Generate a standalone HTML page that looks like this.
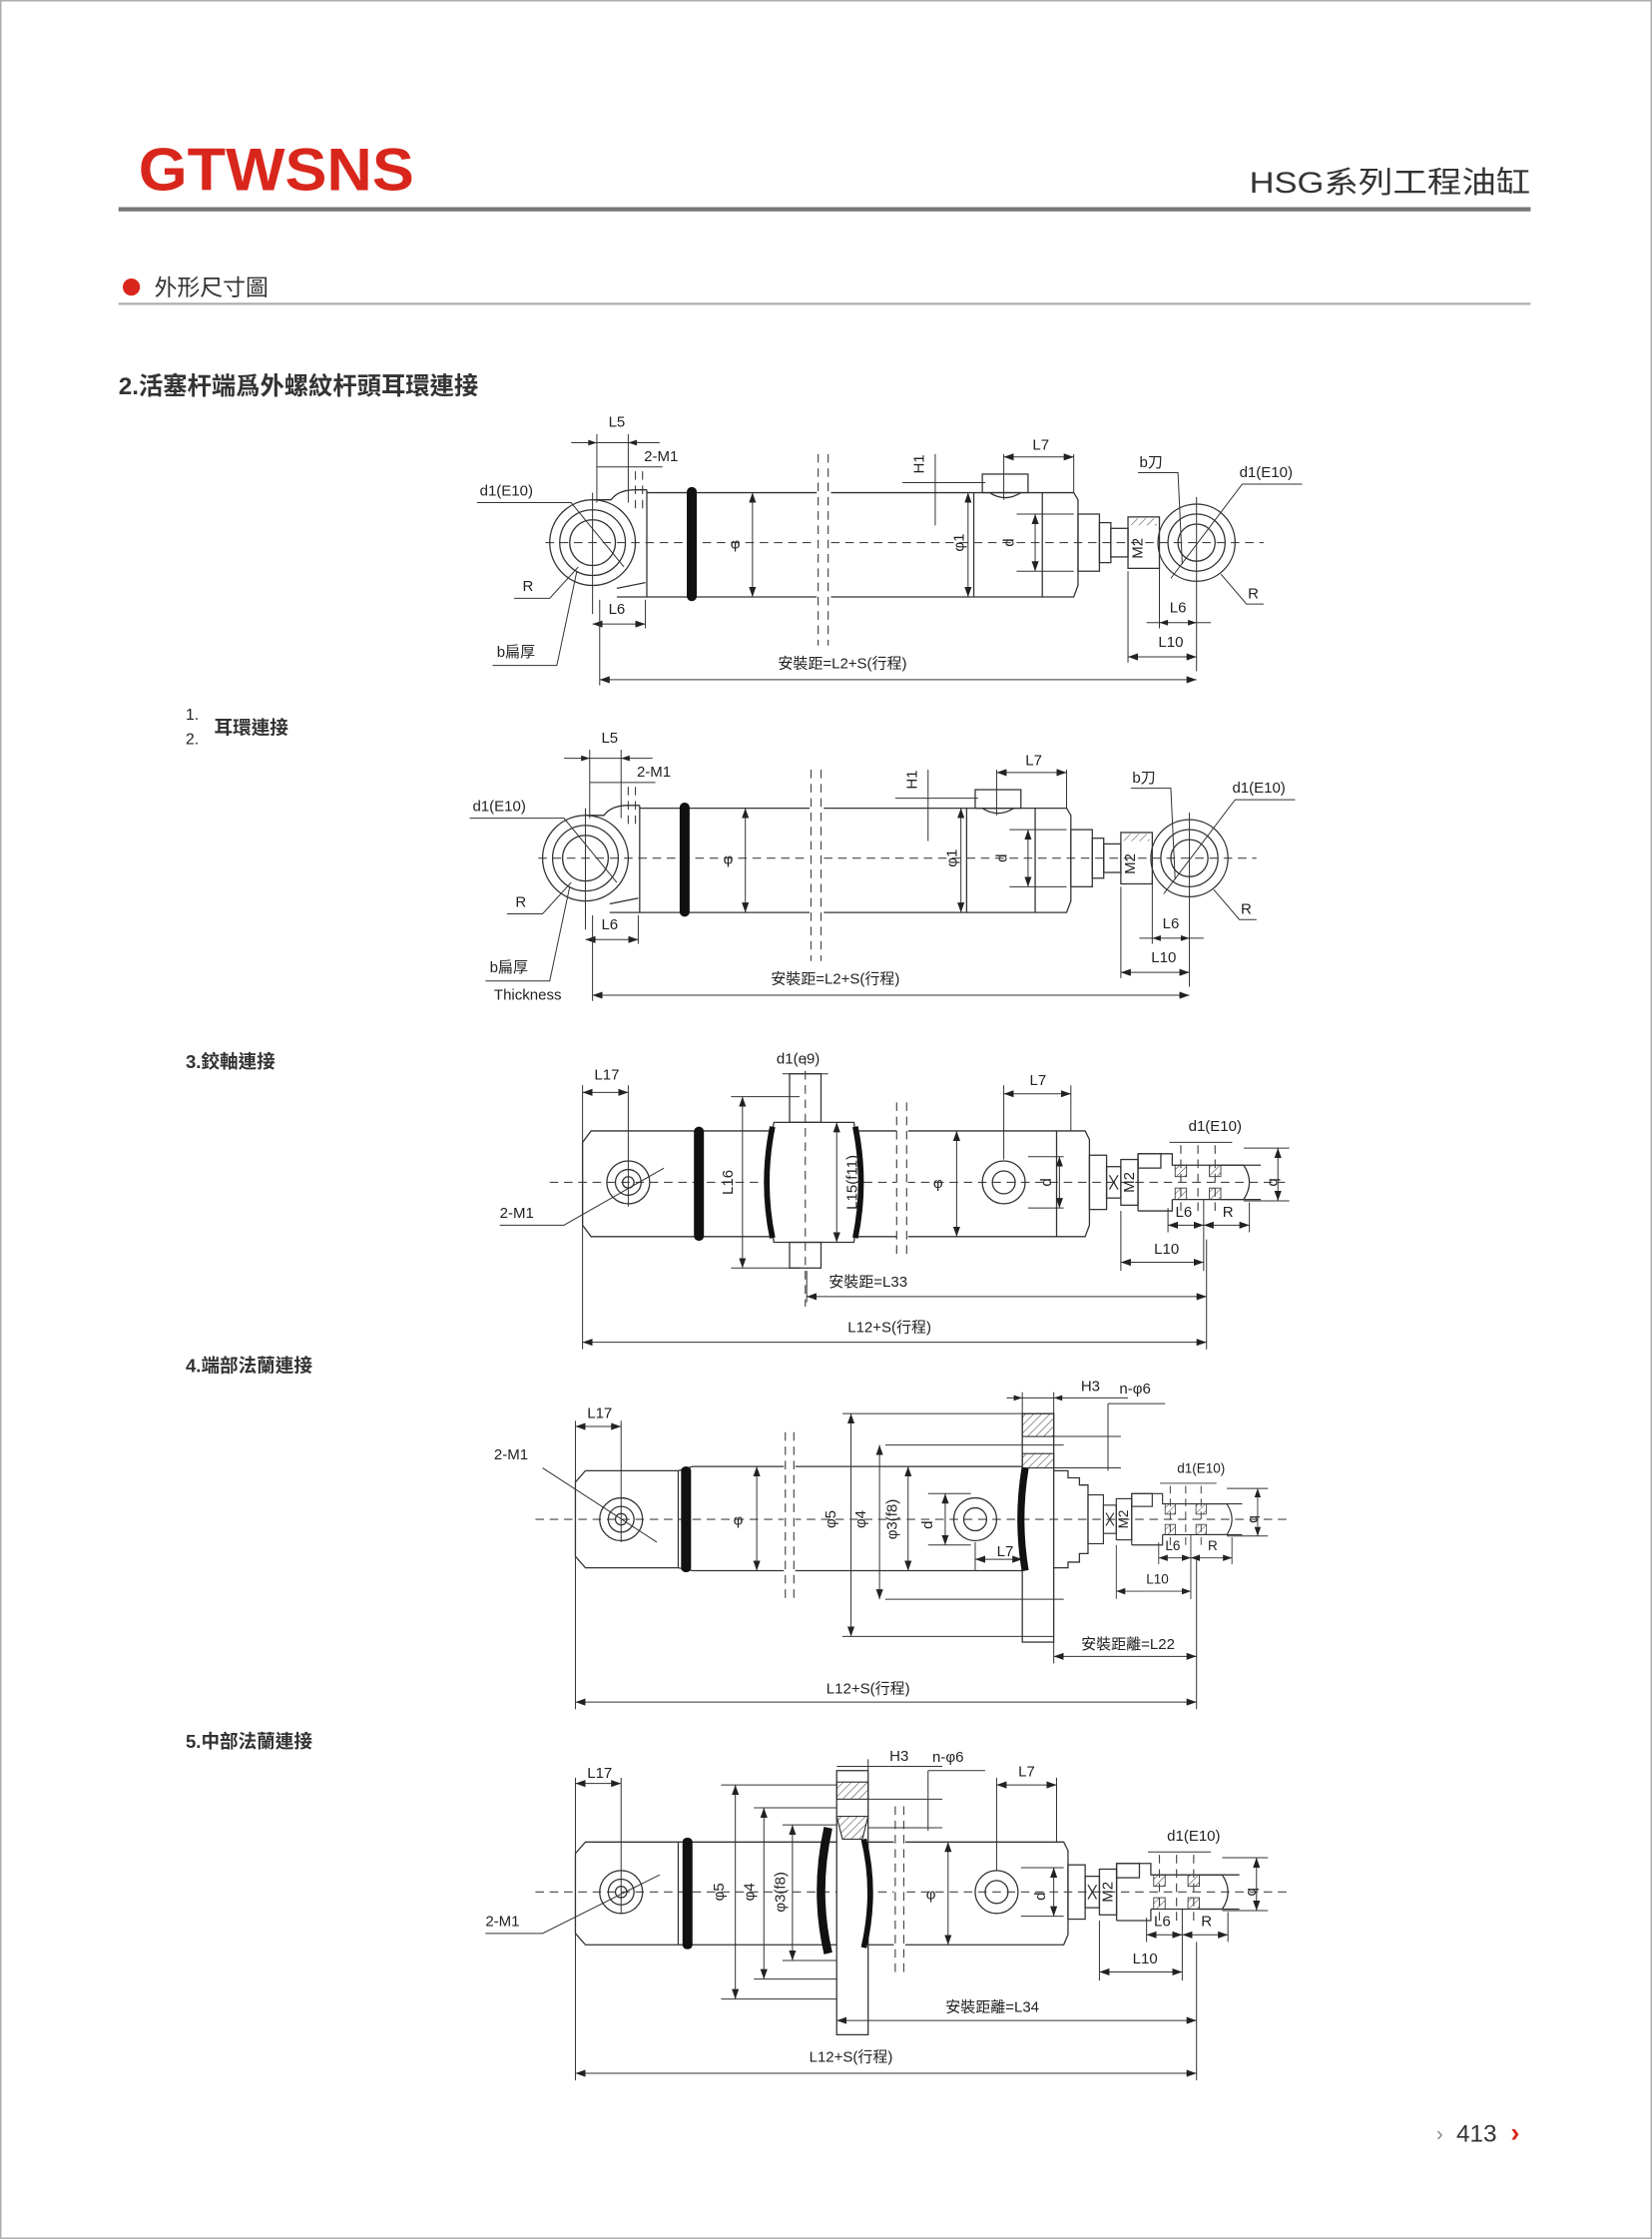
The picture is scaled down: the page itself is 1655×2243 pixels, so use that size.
<!DOCTYPE html>
<html><head><meta charset="utf-8">
<style>
html,body{margin:0;padding:0;background:#fff;}
svg{display:block;}
text{font-family:"Liberation Sans","Noto Sans CJK TC",sans-serif;fill:#222;}
.s{stroke:#333;stroke-width:0.9;fill:none;}
.c{stroke:#444;stroke-width:0.8;stroke-dasharray:6 4;fill:none;}
.d{stroke:#333;stroke-width:0.7;fill:none;}
.l{font-size:10.5px;}
</style></head><body>
<svg width="1655" height="2243" viewBox="0 0 1157 1568" xmlns="http://www.w3.org/2000/svg">
<defs>
<marker id="a" markerWidth="7" markerHeight="5" refX="7" refY="2.5" orient="auto-start-reverse" markerUnits="userSpaceOnUse"><path d="M0,0 L7,2.5 L0,5z" fill="#222"/></marker>
<pattern id="h" width="4" height="4" patternUnits="userSpaceOnUse" patternTransform="rotate(45)"><line x1="0" y1="0" x2="0" y2="4" stroke="#333" stroke-width="0.7"/></pattern>

<g id="rodend">
 <rect class="s" x="0" y="-19" width="12" height="38"/>
 <rect class="s" x="12" y="-11" width="10" height="22"/>
 <path class="s" d="M14,-5 L20,5 M20,-5 L14,5"/>
 <rect class="s" x="22" y="-16" width="12" height="32"/>
 <text class="l" transform="translate(31,0) rotate(-90)" text-anchor="middle">M2</text>
 <rect class="s" x="34" y="-20" width="16" height="10" fill="url(#h)"/>
 <path class="s" d="M34,-20 L58,-20 L58,-12 L120,-12 M58,12 L120,12 M34,20 L58,20 L58,12 M34,-20 L34,20"/>
 <rect x="60" y="-12" width="8" height="8" fill="url(#h)" stroke="#333" stroke-width="0.6"/>
 <rect x="60" y="4" width="8" height="8" fill="url(#h)" stroke="#333" stroke-width="0.6"/>
 <rect x="84" y="-12" width="8" height="8" fill="url(#h)" stroke="#333" stroke-width="0.6"/>
 <rect x="84" y="4" width="8" height="8" fill="url(#h)" stroke="#333" stroke-width="0.6"/>
 <path class="s" d="M92,-12 L108,-12 Q116,0 108,12 L92,12"/>
 <path class="c" d="M64,-26 L64,24 M76,-26 L76,24 M88,-26 L88,24"/>
 <text class="l" x="88" y="-36" text-anchor="middle">d1(E10)</text>
 <line class="d" x1="56" y1="-28" x2="100" y2="-28"/>
 <line class="d" x1="108" y1="-24" x2="140" y2="-24"/><line class="d" x1="108" y1="13" x2="140" y2="13"/>
 <line class="d" x1="132" y1="-24" x2="132" y2="13" marker-start="url(#a)" marker-end="url(#a)"/>
 <text class="l" transform="translate(126,0) rotate(90)" text-anchor="middle">b</text>
 <line class="d" x1="55" y1="18" x2="55" y2="35"/><line class="d" x1="80" y1="12" x2="80" y2="62"/><line class="d" x1="112" y1="14" x2="112" y2="35"/>
 <line class="d" x1="55" y1="30" x2="80" y2="30" marker-start="url(#a)" marker-end="url(#a)"/>
 <line class="d" x1="80" y1="30" x2="112" y2="30" marker-start="url(#a)" marker-end="url(#a)"/>
 <text class="l" x="66" y="24" text-anchor="middle">L6</text><text class="l" x="97" y="24" text-anchor="middle">R</text>
 <line class="d" x1="22" y1="20" x2="22" y2="62"/>
 <line class="d" x1="22" y1="56" x2="80" y2="56" marker-start="url(#a)" marker-end="url(#a)"/>
 <text class="l" x="54" y="50" text-anchor="middle">L10</text>
</g>

<g id="d1">
 <line class="c" x1="382" y1="380" x2="885" y2="380"/>
 <line class="d" x1="400" y1="310" x2="462" y2="310"/><path d="M418,310 l-6,-2 v4z M440,310 l6,-2 v4z" fill="#222"/>
 <line class="d" x1="418" y1="304" x2="418" y2="352"/><line class="d" x1="440" y1="304" x2="440" y2="352"/>
 <text class="l" x="432" y="299" text-anchor="middle">L5</text>
 <line class="d" x1="418" y1="327" x2="464" y2="327"/>
 <text class="l" x="451" y="323">2-M1</text>
 <path class="c" d="M445,330 L445,360 M450,330 L450,360"/>
 <circle class="s" cx="415" cy="380" r="30"/><circle class="s" cx="415" cy="380" r="23"/><circle class="s" cx="415" cy="380" r="16"/>
 <path class="s" d="M415,350 L428,350 Q433,343 445,343 L453,343 M453,343 L453,418 L432,418"/>
 <path class="s" d="M432,412 L452,408"/>
 <line class="d" x1="415" y1="345" x2="415" y2="430"/>
 <text class="l" x="336" y="347">d1(E10)</text>
 <path class="d" d="M334,352 L400,352 L437,397"/>
 <text class="l" x="366" y="414">R</text><path class="d" d="M360,419 L385,419 L405,397"/>
 <text class="l" x="348" y="460">b扁厚</text><path class="d" d="M345,466 L390,466 L404,400"/>
 <line class="d" x1="452" y1="420" x2="452" y2="440"/>
 <line class="d" x1="415" y1="437" x2="452" y2="437" marker-start="url(#a)" marker-end="url(#a)"/>
 <text class="l" x="432" y="430" text-anchor="middle">L6</text>
 <path class="s" d="M453,345 L752,345 L755,350 L755,410 L752,418 L453,418"/>
 <rect x="481" y="341" width="7" height="80" rx="3.5" fill="#111"/>
 <line class="d" x1="527" y1="345" x2="527" y2="418" marker-start="url(#a)" marker-end="url(#a)"/>
 <text class="l" x="515" y="384" text-anchor="middle">φ</text>
 <rect x="572" y="320" width="10" height="130" fill="#fff"/>
 <path class="c" d="M573,318 L573,452 M580,318 L580,452"/>
 <line class="d" x1="655" y1="318" x2="655" y2="368"/><line class="d" x1="632" y1="338" x2="690" y2="338"/>
 <text class="l" transform="translate(647,325) rotate(-90)" text-anchor="middle">H1</text>
 <rect class="s" x="688" y="332" width="32" height="13"/>
 <path class="s" d="M693,345 Q704,352 715,345"/>
 <line class="d" x1="703" y1="318" x2="703" y2="350"/><line class="d" x1="752" y1="318" x2="752" y2="345"/>
 <line class="d" x1="703" y1="320" x2="752" y2="320" marker-start="url(#a)" marker-end="url(#a)"/>
 <text class="l" x="729" y="315" text-anchor="middle">L7</text>
 <line class="d" x1="678" y1="345" x2="678" y2="418" marker-start="url(#a)" marker-end="url(#a)"/>
 <text class="l" transform="translate(675,380) rotate(-90)" text-anchor="middle">φ1</text>
 <path class="s" d="M682,345 L682,418 M730,345 L730,418"/>
 <path class="d" d="M712,360 L752,360 M712,400 L752,400"/>
 <line class="d" x1="725" y1="360" x2="725" y2="400" marker-start="url(#a)" marker-end="url(#a)"/>
 <text class="l" transform="translate(710,380) rotate(-90)" text-anchor="middle">d</text>
 <rect class="s" x="755" y="360" width="15" height="40"/>
 <rect class="s" x="770" y="366" width="8" height="28"/>
 <rect class="s" x="778" y="370" width="12" height="20"/>
 <rect class="s" x="790" y="362" width="22" height="36"/>
 <rect x="792" y="363" width="18" height="5" fill="url(#h)"/>
 <text class="l" transform="translate(800,384) rotate(-90)" text-anchor="middle">M2</text>
 <circle class="s" cx="838" cy="380" r="27"/><circle class="s" cx="838" cy="380" r="20"/><circle class="s" cx="838" cy="380" r="13"/>
 <line class="d" x1="838" y1="348" x2="838" y2="470"/>
 <text class="l" x="798" y="327">b刀</text><path class="d" d="M797,331 L825,331 L828,395"/>
 <text class="l" x="868" y="334">d1(E10)</text><path class="d" d="M912,339 L870,339 L820,405"/>
 <text class="l" x="874" y="419">R</text><path class="d" d="M885,423 L873,423 L855,402"/>
 <line class="d" x1="812" y1="395" x2="812" y2="440"/><line class="d" x1="790" y1="400" x2="790" y2="464"/>
 <line class="d" x1="803" y1="436" x2="848" y2="436"/><path d="M812,436 l6,-2 v4z M838,436 l-6,-2 v4z" fill="#222"/>
 <text class="l" x="825" y="429" text-anchor="middle">L6</text>
 <line class="d" x1="790" y1="460" x2="838" y2="460" marker-start="url(#a)" marker-end="url(#a)"/>
 <text class="l" x="820" y="453" text-anchor="middle">L10</text>
 <line class="d" x1="420" y1="420" x2="420" y2="480"/>
 <line class="d" x1="420" y1="476" x2="838" y2="476" marker-start="url(#a)" marker-end="url(#a)"/>
 <text class="l" x="590" y="468" text-anchor="middle">安裝距=L2+S(行程)</text>
</g>
</defs>

<rect x="0.5" y="0.5" width="1156" height="1567" fill="none" stroke="#aaa" stroke-width="1"/>
<text x="97" y="133" font-size="42" font-weight="bold" style="fill:#d9261c" textLength="193" lengthAdjust="spacingAndGlyphs">GTWSNS</text>
<text x="1072" y="135" font-size="21" text-anchor="end" textLength="197" lengthAdjust="spacingAndGlyphs" style="fill:#333">HSG系列工程油缸</text>
<rect x="83" y="145" width="989" height="3" fill="#777"/>
<circle cx="92" cy="201" r="6" fill="#d9261c"/>
<text x="108" y="207" font-size="16" style="fill:#333">外形尺寸圖</text>
<rect x="83" y="212" width="989" height="1.5" fill="#aaa"/>
<text x="83" y="276" font-size="17" font-weight="bold" style="fill:#333">2.活塞杆端爲外螺紋杆頭耳環連接</text>
<text x="130" y="504" font-size="11">1.</text><text x="130" y="521" font-size="11">2.</text>
<text x="150" y="514" font-size="13" font-weight="bold" style="fill:#333">耳環連接</text>
<text x="130" y="748" font-size="13" font-weight="bold" style="fill:#333">3.鉸軸連接</text>
<text x="130" y="961" font-size="13" font-weight="bold" style="fill:#333">4.端部法蘭連接</text>
<text x="130" y="1224" font-size="13" font-weight="bold" style="fill:#333">5.中部法蘭連接</text>

<use href="#d1"/>
<g transform="translate(-5,221)"><use href="#d1"/></g>
<text class="l" x="346" y="700">Thickness</text>

<g>
 <line class="c" x1="385" y1="828" x2="900" y2="828"/>
 <path class="s" d="M408,800 L414,792 L760,792 L763,798 L763,858 L760,866 L414,866 L408,858 Z"/>
 <circle class="s" cx="440" cy="828" r="15"/><circle class="s" cx="440" cy="828" r="9"/><circle class="s" cx="440" cy="828" r="4"/>
 <line class="d" x1="440" y1="760" x2="440" y2="845"/><line class="d" x1="408" y1="760" x2="408" y2="945"/>
 <line class="d" x1="408" y1="765" x2="440" y2="765" marker-start="url(#a)" marker-end="url(#a)"/>
 <text class="l" x="425" y="756" text-anchor="middle">L17</text>
 <text class="l" x="350" y="853">2-M1</text><path class="d" d="M350,858 L395,858 L465,818"/>
 <rect x="486" y="789" width="7" height="80" rx="3.5" fill="#111"/>
 <line class="d" x1="512" y1="768" x2="560" y2="768"/><line class="d" x1="512" y1="888" x2="560" y2="888"/>
 <line class="d" x1="520" y1="768" x2="520" y2="888" marker-start="url(#a)" marker-end="url(#a)"/>
 <text class="l" transform="translate(513,828) rotate(-90)" text-anchor="middle">L16</text>
 <path d="M542,786 L598,786 Q606,828 598,870 L542,870 Q534,828 542,786 Z" fill="#fff" stroke="#333" stroke-width="0.9"/>
 <path d="M541,789 Q533,828 541,867" stroke="#111" stroke-width="4" fill="none"/>
 <path d="M599,789 Q607,828 599,867" stroke="#111" stroke-width="4" fill="none"/>
 <rect class="s" x="553" y="752" width="22" height="34"/><rect class="s" x="553" y="870" width="22" height="18"/>
 <line class="c" x1="564" y1="740" x2="564" y2="915"/>
 <text class="l" x="559" y="745" text-anchor="middle">d1(e9)</text>
 <line class="d" x1="548" y1="752" x2="580" y2="752"/>
 <line class="d" x1="586" y1="786" x2="586" y2="870" marker-start="url(#a)" marker-end="url(#a)"/>
 <text class="l" transform="translate(600,828) rotate(-90)" text-anchor="middle">L15(f11)</text>
 <rect x="628" y="780" width="8" height="100" fill="#fff"/>
 <path class="c" d="M628,772 L628,882 M635,772 L635,882"/>
 <text class="l" x="657" y="832" text-anchor="middle">φ</text>
 <line class="d" x1="670" y1="792" x2="670" y2="866" marker-start="url(#a)" marker-end="url(#a)"/>
 <circle class="s" cx="703" cy="828" r="15"/><circle class="s" cx="703" cy="828" r="8"/>
 <line class="d" x1="703" y1="760" x2="703" y2="812"/><line class="d" x1="750" y1="760" x2="750" y2="792"/>
 <line class="d" x1="703" y1="766" x2="750" y2="766" marker-start="url(#a)" marker-end="url(#a)"/>
 <text class="l" x="727" y="760" text-anchor="middle">L7</text>
 <line class="s" x1="740" y1="792" x2="740" y2="866"/>
 <path class="d" d="M720,810 L745,810 M720,846 L745,846"/>
 <line class="d" x1="742" y1="810" x2="742" y2="846" marker-start="url(#a)" marker-end="url(#a)"/>
 <text class="l" transform="translate(736,828) rotate(-90)" text-anchor="middle">d</text>
 <use href="#rodend" transform="translate(763,828)"/>
 <line class="d" x1="565" y1="890" x2="565" y2="912"/><line class="d" x1="845" y1="868" x2="845" y2="945"/>
 <line class="d" x1="565" y1="908" x2="845" y2="908" marker-start="url(#a)" marker-end="url(#a)"/>
 <text class="l" x="608" y="901" text-anchor="middle">安裝距=L33</text>
 <line class="d" x1="408" y1="940" x2="845" y2="940" marker-start="url(#a)" marker-end="url(#a)"/>
 <text class="l" x="623" y="933" text-anchor="middle">L12+S(行程)</text>
</g>

<g>
 <line class="c" x1="375" y1="1064" x2="905" y2="1064"/>
 <path class="s" d="M403,1038 L410,1030 L475,1030 L485,1027 L716,1027 L716,1100 L485,1100 L475,1098 L410,1098 L403,1090 Z"/>
 <line class="s" x1="475" y1="1030" x2="475" y2="1098"/>
 <circle class="s" cx="435" cy="1064" r="15"/><circle class="s" cx="435" cy="1064" r="9"/><circle class="s" cx="435" cy="1064" r="4"/>
 <line class="d" x1="435" y1="995" x2="435" y2="1080"/><line class="d" x1="403" y1="995" x2="403" y2="1197"/>
 <line class="d" x1="403" y1="999" x2="435" y2="999" marker-start="url(#a)" marker-end="url(#a)"/>
 <text class="l" x="420" y="993" text-anchor="middle">L17</text>
 <text class="l" x="346" y="1022">2-M1</text><path class="d" d="M380,1028 L460,1080"/>
 <rect x="477" y="1027" width="7" height="74" rx="3" fill="#111"/>
 <line class="d" x1="530" y1="1027" x2="530" y2="1100" marker-start="url(#a)" marker-end="url(#a)"/>
 <text class="l" x="517" y="1068" text-anchor="middle">φ</text>
 <rect x="549" y="1010" width="8" height="110" fill="#fff"/>
 <path class="c" d="M550,1003 L550,1122 M556,1003 L556,1122"/>
 <rect class="s" x="716" y="990" width="22" height="160"/>
 <rect x="716" y="990" width="22" height="16" fill="url(#h)" stroke="#333" stroke-width="0.8"/>
 <rect x="716" y="1018" width="22" height="10" fill="url(#h)" stroke="#333" stroke-width="0.8"/>
 <path class="d" d="M590,990 L716,990 M590,1146 L738,1146 M620,1012 L745,1012 M620,1120 L745,1120 M640,1027 L716,1027 M640,1100 L716,1100"/>
 <line class="d" x1="596" y1="990" x2="596" y2="1146" marker-start="url(#a)" marker-end="url(#a)"/>
 <line class="d" x1="616" y1="1012" x2="616" y2="1120" marker-start="url(#a)" marker-end="url(#a)"/>
 <line class="d" x1="636" y1="1027" x2="636" y2="1100" marker-start="url(#a)" marker-end="url(#a)"/>
 <text class="l" transform="translate(585,1064) rotate(-90)" text-anchor="middle">φ5</text>
 <text class="l" transform="translate(606,1064) rotate(-90)" text-anchor="middle">φ4</text>
 <text class="l" transform="translate(628,1064) rotate(-90)" text-anchor="middle">φ3(f8)</text>
 <path class="d" d="M650,1046 L680,1046 M650,1082 L680,1082"/>
 <line class="d" x1="662" y1="1046" x2="662" y2="1082" marker-start="url(#a)" marker-end="url(#a)"/>
 <text class="l" transform="translate(653,1068) rotate(-90)" text-anchor="middle">d</text>
 <circle class="s" cx="683" cy="1064" r="15"/><circle class="s" cx="683" cy="1064" r="8"/>
 <line class="d" x1="683" y1="1080" x2="683" y2="1100"/>
 <line class="d" x1="683" y1="1092" x2="716" y2="1092" marker-start="url(#a)" marker-end="url(#a)"/>
 <text class="l" x="704" y="1090" text-anchor="middle">L7</text>
 <path d="M718,1028 Q712,1064 718,1100" stroke="#111" stroke-width="5" fill="none"/>
 <path class="s" d="M738,1030 L748,1030 L748,1035 L756,1035 L756,1040 L762,1040 L762,1088 L756,1088 L756,1094 L748,1094 L748,1098 L738,1098"/>
 <use href="#rodend" transform="translate(762,1064) scale(0.9,0.9)"/>
 <line class="d" x1="705" y1="979" x2="790" y2="979"/><path d="M716,979 l-6,-2 v4z M738,979 l6,-2 v4z" fill="#222"/>
 <line class="d" x1="716" y1="975" x2="716" y2="990"/><line class="d" x1="738" y1="975" x2="738" y2="990"/>
 <text class="l" x="757" y="974">H3</text>
 <text class="l" x="784" y="976">n-φ6</text>
 <path class="d" d="M776,983 L816,983 M776,983 L776,1030"/>
 <path class="d" d="M738,1006 L785,1006 M738,1028 L785,1028"/>
 <line class="d" x1="738" y1="1150" x2="738" y2="1165"/><line class="d" x1="838" y1="1090" x2="838" y2="1197"/>
 <line class="d" x1="738" y1="1160" x2="838" y2="1160" marker-start="url(#a)" marker-end="url(#a)"/>
 <text class="l" x="790" y="1155" text-anchor="middle">安裝距離=L22</text>
 <line class="d" x1="403" y1="1192" x2="838" y2="1192" marker-start="url(#a)" marker-end="url(#a)"/>
 <text class="l" x="608" y="1186" text-anchor="middle">L12+S(行程)</text>
</g>

<g>
 <line class="c" x1="375" y1="1325" x2="905" y2="1325"/>
 <path class="s" d="M403,1298 L410,1290 L745,1290 L748,1296 L748,1355 L745,1362 L410,1362 L403,1354 Z"/>
 <line class="s" x1="475" y1="1290" x2="475" y2="1362"/>
 <circle class="s" cx="435" cy="1325" r="15"/><circle class="s" cx="435" cy="1325" r="9"/><circle class="s" cx="435" cy="1325" r="4"/>
 <line class="d" x1="435" y1="1245" x2="435" y2="1340"/><line class="d" x1="403" y1="1245" x2="403" y2="1457"/>
 <line class="d" x1="403" y1="1249" x2="435" y2="1249" marker-start="url(#a)" marker-end="url(#a)"/>
 <text class="l" x="420" y="1245" text-anchor="middle">L17</text>
 <text class="l" x="340" y="1349">2-M1</text><path class="d" d="M340,1354 L380,1354 L462,1313"/>
 <rect x="478" y="1287" width="7" height="78" rx="3" fill="#111"/>
 <rect x="586" y="1240" width="22" height="185" fill="#fff" stroke="#333" stroke-width="0.9"/>
 <rect x="586" y="1248" width="22" height="12" fill="url(#h)" stroke="#333" stroke-width="0.8"/>
 <path d="M586,1272 L608,1272 L604,1288 L590,1288 Z" fill="url(#h)" stroke="#333" stroke-width="0.8"/>
 <path d="M580,1280 Q570,1325 580,1368" stroke="#111" stroke-width="6" fill="none"/>
 <path d="M605,1288 Q614,1325 605,1364" stroke="#111" stroke-width="4" fill="none"/>
 <path class="d" d="M505,1250 L586,1250 M505,1400 L586,1400 M528,1266 L586,1266 M528,1386 L586,1386 M548,1278 L586,1278 M548,1373 L586,1373"/>
 <line class="d" x1="515" y1="1250" x2="515" y2="1400" marker-start="url(#a)" marker-end="url(#a)"/>
 <line class="d" x1="535" y1="1266" x2="535" y2="1386" marker-start="url(#a)" marker-end="url(#a)"/>
 <line class="d" x1="555" y1="1278" x2="555" y2="1373" marker-start="url(#a)" marker-end="url(#a)"/>
 <text class="l" transform="translate(507,1325) rotate(-90)" text-anchor="middle">φ5</text>
 <text class="l" transform="translate(528,1325) rotate(-90)" text-anchor="middle">φ4</text>
 <text class="l" transform="translate(550,1325) rotate(-90)" text-anchor="middle">φ3(f8)</text>
 <rect x="626" y="1270" width="8" height="110" fill="#fff"/>
 <path class="c" d="M627,1265 L627,1385 M633,1265 L633,1385"/>
 <text class="l" x="652" y="1330" text-anchor="middle">φ</text>
 <line class="d" x1="664" y1="1290" x2="664" y2="1362" marker-start="url(#a)" marker-end="url(#a)"/>
 <line class="d" x1="586" y1="1237" x2="660" y2="1237"/><line class="d" x1="608" y1="1232" x2="608" y2="1240"/>
 <text class="l" x="623" y="1233">H3</text><text class="l" x="653" y="1234">n-φ6</text>
 <path class="d" d="M650,1240 L690,1240 M650,1240 L650,1282 M608,1260 L660,1260 M608,1280 L660,1280"/>
 <circle class="s" cx="698" cy="1325" r="15"/><circle class="s" cx="698" cy="1325" r="8"/>
 <line class="d" x1="698" y1="1245" x2="698" y2="1310"/><line class="d" x1="740" y1="1245" x2="740" y2="1290"/>
 <line class="d" x1="698" y1="1250" x2="740" y2="1250" marker-start="url(#a)" marker-end="url(#a)"/>
 <text class="l" x="719" y="1244" text-anchor="middle">L7</text>
 <path class="d" d="M715,1308 L745,1308 M715,1342 L745,1342"/>
 <line class="d" x1="738" y1="1308" x2="738" y2="1342" marker-start="url(#a)" marker-end="url(#a)"/>
 <text class="l" transform="translate(732,1328) rotate(-90)" text-anchor="middle">d</text>
 <use href="#rodend" transform="translate(748,1325)"/>
 <line class="d" x1="838" y1="1360" x2="838" y2="1457"/>
 <line class="d" x1="586" y1="1415" x2="838" y2="1415" marker-start="url(#a)" marker-end="url(#a)"/>
 <text class="l" x="695" y="1409" text-anchor="middle">安裝距離=L34</text>
 <line class="d" x1="403" y1="1452" x2="838" y2="1452" marker-start="url(#a)" marker-end="url(#a)"/>
 <text class="l" x="596" y="1444" text-anchor="middle">L12+S(行程)</text>
</g>

<text x="1006" y="1499" font-size="14" style="fill:#888">›</text>
<text x="1020" y="1500" font-size="17" style="fill:#333">413</text>
<text x="1058" y="1500" font-size="19" font-weight="bold" style="fill:#d9261c">›</text>
</svg>
</body></html>
